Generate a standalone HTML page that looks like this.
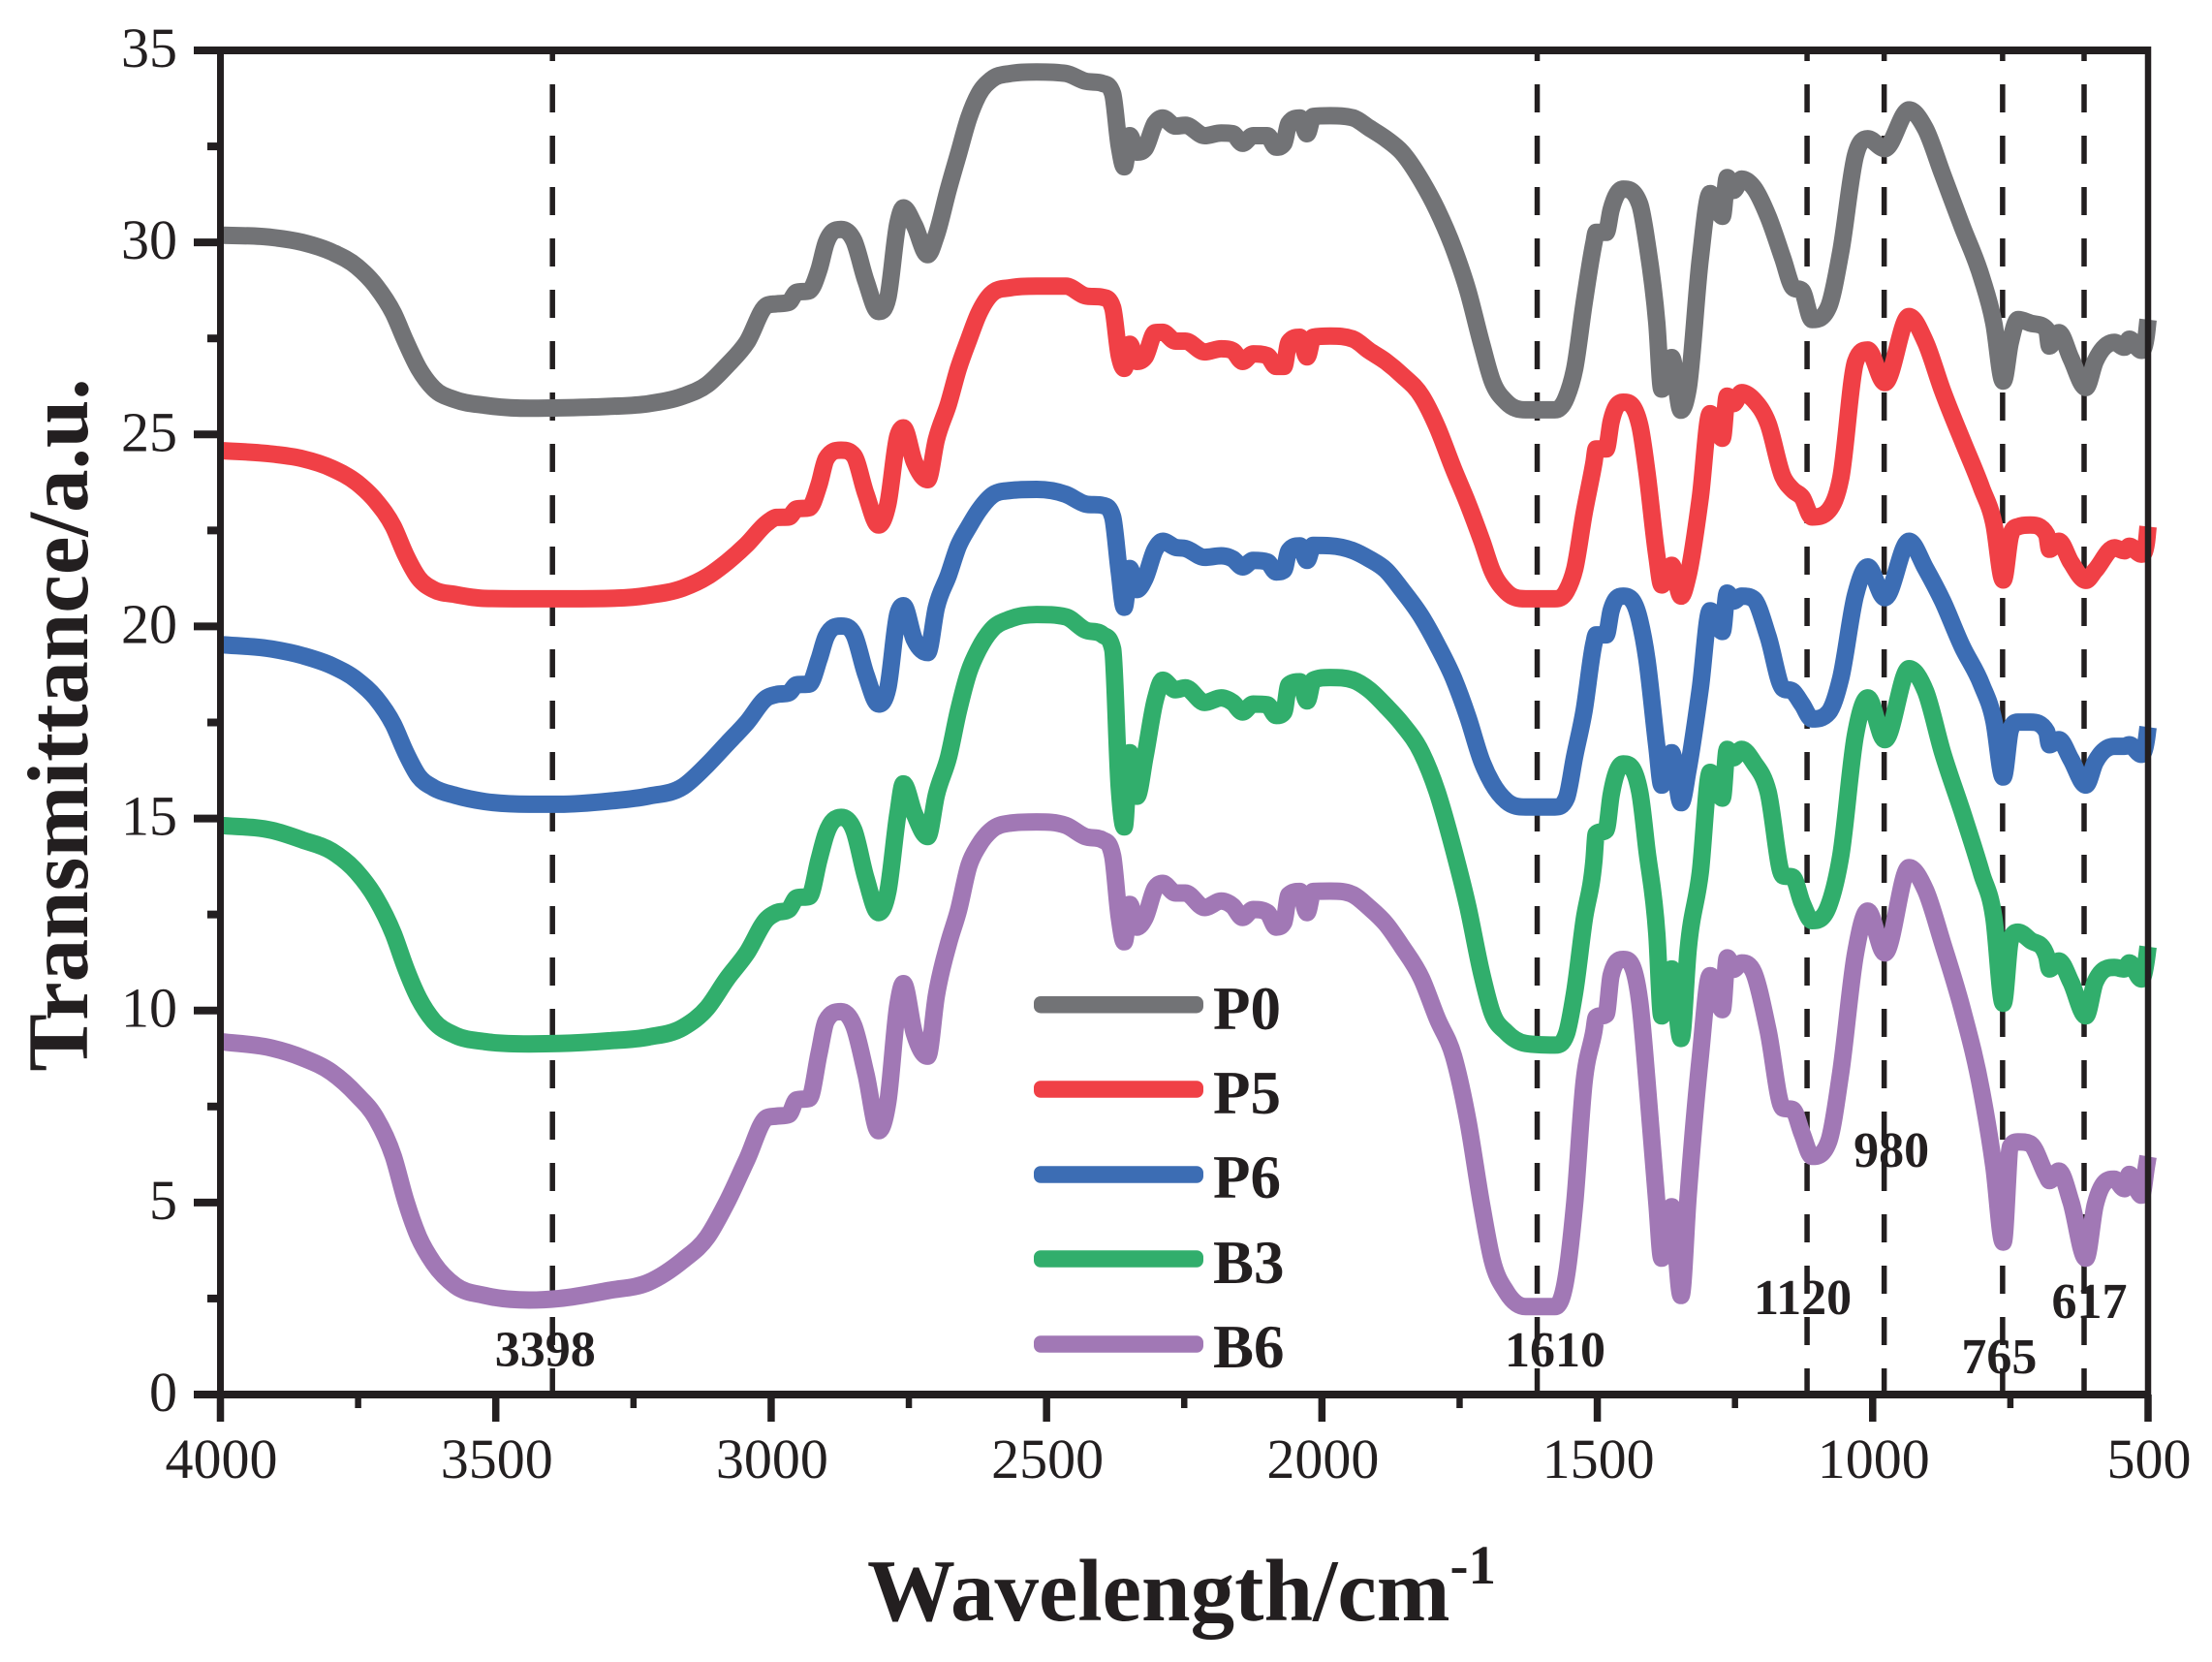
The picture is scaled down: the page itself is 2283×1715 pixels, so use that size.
<!DOCTYPE html>
<html lang="en">
<head>
<meta charset="utf-8">
<title>FTIR transmittance spectra</title>
<style>
html,body{margin:0;padding:0;background:#fff;width:2283px;height:1715px;overflow:hidden}
svg{display:block}
text{font-family:"Liberation Serif",serif;fill:#231f20}
</style>
</head>
<body>
<svg id="chart" xmlns="http://www.w3.org/2000/svg" width="2283" height="1715" viewBox="0 0 2283 1715">
  <g id="markers"></g>
  <g id="curves"></g>
  <g id="axes"></g>
  <g id="annotations"></g>
  <g id="legend"></g>
  <text transform="translate(90,748) rotate(-90)" text-anchor="middle" font-size="89" font-weight="700">Transmittance/a.u.</text>
  <text x="895" y="1672" font-size="91" font-weight="700">Wavelength/cm<tspan font-size="57" dy="-38">-1</tspan></text>
</svg>
<script>
const wavenumbers = [
4000,3906,3851,3798,3752,3718,3686,3663,3640,3613,
3573,3520,3439,3385,3295,3223,3160,3116,3080,3044,
3008,2990,2968,2954,2931,2913,2900,2873,2850,2828,
2805,2788,2770,2760,2740,2716,2700,2678,2660,2641,
2623,2600,2565,2518,2465,2430,2398,2380,2368,2359,
2349,2336,2321,2303,2289,2266,2248,2213,2183,2162,
2144,2125,2099,2083,2069,2060,2040,2027,2016,1985,
1943,1914,1884,1855,1819,1791,1761,1735,1709,1691,
1665,1630,1577,1556,1541,1524,1506,1502,1484,1475,
1453,1423,1410,1392,1383,1365,1348,1335,1313,1295,
1273,1264,1253,1238,1216,1190,1163,1145,1128,1110,
1080,1058,1031,1009,978,934,904,873,838,802,
780,763,750,736,714,684,679,662,640,613,
596,561,543,534,512,503,500];

const p0Values = [
30.19,30.13,30.0,29.75,29.37,28.87,28.16,27.4,26.72,26.2,
25.9,25.76,25.68,25.69,25.73,25.8,26.0,26.3,26.8,27.4,
28.36,28.4,28.44,28.7,28.74,29.3,30.0,30.34,30.05,29.0,
28.2,28.56,30.5,30.9,30.45,29.68,30.2,31.4,32.3,33.25,
33.86,34.24,34.4,34.44,34.4,34.2,34.14,33.87,32.5,31.97,
32.78,32.35,32.45,33.1,33.24,33.03,33.05,32.78,32.85,32.83,
32.58,32.78,32.78,32.48,32.58,33.1,33.24,32.83,33.28,33.3,
33.24,32.98,32.7,32.35,31.6,30.85,29.85,28.74,27.3,26.4,
25.84,25.64,25.64,25.97,26.72,28.41,30.0,30.26,30.26,30.85,
31.39,31.0,30.0,27.9,26.18,27.0,25.63,26.2,29.58,31.27,
30.68,31.69,31.35,31.65,31.43,30.68,29.58,28.83,28.74,27.99,
28.32,29.75,32.28,32.7,32.44,33.45,32.95,31.77,30.43,29.08,
27.9,26.39,27.4,27.99,27.9,27.73,27.3,27.65,26.98,26.22,
26.9,27.4,27.27,27.48,27.19,27.6,27.99];

const p5Values = [
24.58,24.49,24.37,24.12,23.74,23.27,22.6,21.84,21.26,20.96,
20.83,20.73,20.72,20.72,20.73,20.81,21.0,21.3,21.68,22.14,
22.69,22.84,22.85,23.06,23.09,23.7,24.37,24.59,24.45,23.45,
22.64,23.19,24.96,25.17,24.28,23.82,24.87,25.8,26.72,27.48,
28.15,28.66,28.82,28.86,28.86,28.61,28.57,28.3,27.05,26.72,
27.35,26.9,27.02,27.65,27.66,27.43,27.43,27.15,27.23,27.18,
26.9,27.1,27.05,26.77,26.77,27.4,27.53,27.02,27.53,27.56,
27.48,27.18,26.9,26.55,26.0,25.2,24.1,23.2,22.2,21.45,
20.9,20.72,20.72,20.92,21.5,22.94,24.28,24.62,24.62,25.33,
25.84,25.25,24.03,21.84,21.08,21.59,20.79,21.34,23.36,25.54,
24.9,26.0,25.8,26.09,25.9,25.29,23.9,23.55,23.36,22.85,
23.02,23.86,26.9,27.2,26.35,28.07,27.4,26.13,24.87,23.6,
22.68,21.21,22.35,22.6,22.64,22.39,22.01,22.22,21.67,21.2,
21.46,22.05,21.97,22.09,21.88,22.18,22.6];

const p6Values = [
19.53,19.41,19.24,18.98,18.6,18.14,17.45,16.7,16.1,15.8,
15.6,15.44,15.37,15.37,15.45,15.58,15.83,16.4,16.95,17.5,
18.14,18.23,18.27,18.48,18.5,19.15,19.74,20.01,19.8,18.75,
17.98,18.4,20.33,20.54,19.66,19.32,20.5,21.34,22.1,22.6,
23.02,23.4,23.54,23.57,23.44,23.19,23.15,22.85,21.42,20.5,
21.51,20.96,21.26,22.0,22.22,22.06,22.03,21.8,21.84,21.76,
21.55,21.72,21.68,21.42,21.47,21.97,22.1,21.72,22.11,22.1,
21.97,21.76,21.47,20.96,20.25,19.53,18.65,17.64,16.46,15.92,
15.45,15.3,15.3,15.53,16.63,17.8,19.57,19.78,19.78,20.41,
20.79,20.16,19.15,16.88,15.87,16.71,15.41,16.29,18.39,20.41,
19.87,20.87,20.66,20.79,20.71,19.74,18.39,18.31,17.97,17.59,
17.76,18.65,20.83,21.55,20.75,22.22,21.51,20.66,19.49,18.48,
17.55,16.08,17.3,17.51,17.51,17.26,16.92,17.05,16.54,15.87,
16.46,16.88,16.88,16.92,16.67,17.05,17.38];

const b3Values = [
14.82,14.69,14.44,14.15,13.6,12.93,12.0,11.08,10.32,9.73,
9.35,9.19,9.13,9.14,9.21,9.31,9.56,10.07,10.83,11.5,
12.38,12.55,12.63,12.93,12.97,13.94,14.61,15.03,14.7,13.45,
12.55,13.1,15.12,15.9,15.12,14.53,15.62,16.6,17.8,18.82,
19.41,19.91,20.2,20.31,20.25,19.91,19.78,19.41,15.8,14.78,
16.71,15.58,16.63,18.06,18.6,18.35,18.4,18.02,18.14,18.02,
17.77,17.98,17.96,17.68,17.77,18.48,18.56,18.06,18.6,18.67,
18.6,18.35,17.93,17.47,16.71,15.7,14.2,12.7,10.9,9.94,
9.43,9.14,9.1,9.39,10.49,12.34,13.93,14.6,14.7,15.6,
16.42,15.7,14.19,12.0,9.86,11.08,9.27,11.6,13.6,16.2,
15.53,16.8,16.58,16.8,16.46,15.7,13.51,13.47,12.8,12.34,
12.72,14.02,17.2,18.14,17.05,18.9,18.31,16.71,15.2,13.56,
12.42,10.19,11.83,12.04,11.83,11.41,11.08,11.29,10.74,9.86,
10.74,11.12,11.08,11.24,10.82,11.33,11.66];

const b6Values = [
9.19,9.02,8.77,8.39,7.8,7.21,6.2,5.02,4.1,3.42,
2.83,2.58,2.46,2.5,2.71,2.92,3.5,4.1,5.02,6.12,
7.21,7.25,7.29,7.67,7.71,8.89,9.73,9.97,9.6,8.35,
6.87,7.63,10.15,10.7,9.4,8.81,10.4,11.75,12.6,13.77,
14.3,14.7,14.88,14.91,14.82,14.53,14.44,14.02,12.42,11.79,
12.76,12.17,12.42,13.18,13.31,13.06,13.06,12.68,12.85,12.72,
12.42,12.63,12.55,12.17,12.3,13.01,13.1,12.55,13.1,13.11,
13.01,12.68,12.26,11.67,10.83,9.8,8.81,7.13,4.85,3.51,
2.67,2.29,2.29,3.09,5.0,8.13,9.48,9.82,9.9,10.91,
11.33,10.24,8.2,5.0,3.55,4.89,2.58,5.19,8.8,10.91,
10.02,11.37,11.07,11.24,10.99,9.48,7.46,7.42,6.79,6.2,
6.58,8.38,11.5,12.59,11.5,13.72,13.13,11.75,10.07,7.88,
5.94,3.97,6.45,6.58,6.53,5.69,5.57,5.82,5.02,3.55,
4.93,5.61,5.36,5.73,5.19,5.94,6.2];

const seriesNames = ["P0","P5","P6","B3","B6"];
const xTickLabels = [4000,3500,3000,2500,2000,1500,1000,500];
const xMinorTicks = [3750,3250,2750,2250,1750,1250,750];
const yTickLabels = [0,5,10,15,20,25,30,35];
const yMinorTicks = [2.5,7.5,12.5,17.5,22.5,27.5,32.5];
const peakMarkers = [3398,1610,1120,980,765,617];

const seriesValues = [p0Values,p5Values,p6Values,b3Values,b6Values];
const seriesColors = ["#727376","#F04046","#3C6DB4","#31AE6C","#A178B5"];
const NS = "http://www.w3.org/2000/svg";
const INK = "#231f20";

const plotLeft = 227.5, plotRight = 2217, plotTop = 52, plotBottom = 1439;
function xScale(w){ return plotLeft + (4000 - w) * (plotRight - plotLeft) / 3500; }
function yScale(v){ return plotBottom - v * (plotBottom - plotTop) / 35; }

function svgEl(tag, parent){
  const el = document.createElementNS(NS, tag);
  parent.appendChild(el);
  return el;
}
function addLine(parent, x1, y1, x2, y2, width){
  const el = svgEl("line", parent);
  el.setAttribute("x1", x1);
  el.setAttribute("y1", y1);
  el.setAttribute("x2", x2);
  el.setAttribute("y2", y2);
  el.setAttribute("stroke", INK);
  el.setAttribute("stroke-width", width);
  return el;
}
function addText(parent, x, y, str, size, anchor, weight){
  const el = svgEl("text", parent);
  el.setAttribute("x", x);
  el.setAttribute("y", y);
  el.setAttribute("font-size", size);
  el.setAttribute("text-anchor", anchor);
  if (weight) el.setAttribute("font-weight", weight);
  el.textContent = str;
  return el;
}
/* shape-preserving cubic Hermite through the points */
function smoothPath(xs, ys){
  const n = xs.length, h = [], d = [], m = [];
  for (let i = 0; i < n - 1; i++){
    h[i] = xs[i+1] - xs[i];
    d[i] = (ys[i+1] - ys[i]) / h[i];
  }
  m[0] = d[0];
  m[n-1] = d[n-2];
  for (let i = 1; i < n - 1; i++){
    if (d[i-1] * d[i] <= 0){ m[i] = 0; continue; }
    const s = (h[i-1] * d[i] + h[i] * d[i-1]) / (h[i-1] + h[i]);
    const lim = 3 * Math.min(Math.abs(d[i-1]), Math.abs(d[i]));
    m[i] = Math.sign(s) * Math.min(Math.abs(s), lim);
  }
  let path = "M" + xs[0].toFixed(1) + " " + ys[0].toFixed(1);
  for (let i = 0; i < n - 1; i++){
    const c1x = xs[i] + h[i] / 3, c1y = ys[i] + m[i] * h[i] / 3;
    const c2x = xs[i+1] - h[i] / 3, c2y = ys[i+1] - m[i+1] * h[i] / 3;
    path += "C" + c1x.toFixed(1) + " " + c1y.toFixed(1) + " " + c2x.toFixed(1) + " " + c2y.toFixed(1) + " " + xs[i+1].toFixed(1) + " " + ys[i+1].toFixed(1);
  }
  return path;
}

/* dashed peak markers */
const markersG = document.getElementById("markers");
peakMarkers.forEach(function(w){
  const ln = addLine(markersG, xScale(w) + 0.5, plotBottom + 2, xScale(w) + 0.5, plotTop, 5.5);
  ln.setAttribute("stroke-dasharray", "29 24");
  
  
});

/* spectra */
const curvesG = document.getElementById("curves");
seriesValues.forEach(function(vals, i){
  const p = svgEl("path", curvesG);
  p.setAttribute("d", smoothPath(wavenumbers.map(xScale), vals.map(yScale)));
  p.setAttribute("fill", "none");
  p.setAttribute("stroke", seriesColors[i]);
  p.setAttribute("stroke-width", "18");
  p.setAttribute("stroke-linejoin", "round");
  
  
});

/* axes */
const axesG = document.getElementById("axes");
const spineLeft = addLine(axesG, plotLeft, plotTop - 4, plotLeft, plotBottom + 28, 7);


const spineRight = addLine(axesG, plotRight, plotTop - 4, plotRight, plotBottom + 28, 6.5);


const spineTop = addLine(axesG, 200, plotTop, plotRight + 3, plotTop, 8);


const spineBottom = addLine(axesG, 200, plotBottom, plotRight + 3, plotBottom, 8);



xTickLabels.forEach(function(w){
  const t = addLine(axesG, xScale(w), plotBottom, xScale(w), plotBottom + 28, 7.5);
  
  
  const lab = addText(axesG, xScale(w) + 1, 1525, String(w), 58, "middle");
  
  
});
xMinorTicks.forEach(function(w){
  const t = addLine(axesG, xScale(w), plotBottom, xScale(w), plotBottom + 14, 6.5);
  
  
});
yTickLabels.forEach(function(v){
  const t = addLine(axesG, 200, yScale(v), plotLeft, yScale(v), 8);
  
  
  const lab = addText(axesG, 183, yScale(v) + 17, String(v), 58, "end");
  
  
});
yMinorTicks.forEach(function(v){
  const t = addLine(axesG, 214, yScale(v), plotLeft, yScale(v), 8);
  
  
});

/* peak labels */
const annotationsG = document.getElementById("annotations");
const annotationText = ["3398","1610","1120","980","765","617"];
const annotationOffsets = [[-7,1409.5],[19,1410],[-4,1356],[8,1204],[-3,1417],[6,1360]];
annotationText.forEach(function(s, i){
  const lab = addText(annotationsG, xScale(peakMarkers[i]) + annotationOffsets[i][0], annotationOffsets[i][1], s, 52, "middle", "700");
  
  
});

/* legend */
const legendG = document.getElementById("legend");
const legendLineY = [1036.7, 1124, 1212, 1299, 1387];
const legendTextY = [1062, 1149, 1236, 1324, 1411];
seriesNames.forEach(function(name, i){
  const r = svgEl("rect", legendG);
  r.setAttribute("x", 1067);
  r.setAttribute("y", legendLineY[i] - 8.75);
  r.setAttribute("width", 175);
  r.setAttribute("height", 17.5);
  r.setAttribute("rx", 7);
  r.setAttribute("fill", seriesColors[i]);
  
  
  const lab = addText(legendG, 1252, legendTextY[i], name, 63, "start", "700");
  
  
});
</script>
</body>
</html>
